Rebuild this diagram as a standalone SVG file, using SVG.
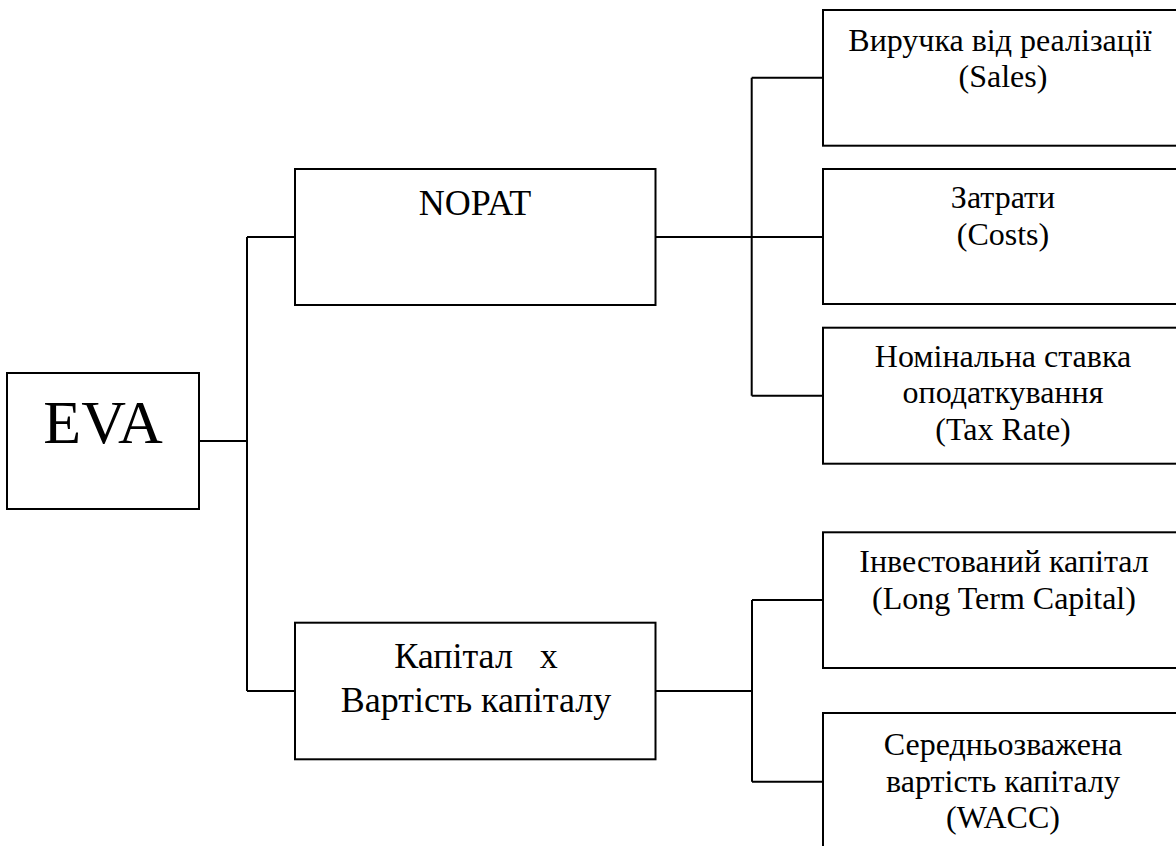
<svg xmlns="http://www.w3.org/2000/svg" width="1176" height="846" viewBox="0 0 1176 846">
<defs>
<style>
.box{fill:#fff;stroke:#000;stroke-width:2}
.conn{fill:none;stroke:#000;stroke-width:2}
</style>
</defs>
<rect width="1176" height="846" fill="#fff"/>
<g id="connectors">
<path class="conn" d="M199 441H247M247 237V691M247 237H295M247 691H295"/>
<path class="conn" d="M655.5 237H823M751.7 77.8V395.7M751.7 77.8H823M751.7 395.7H823"/>
<path class="conn" d="M655.5 691H752M752 600V781.7M752 600H823M752 781.7H823"/>
</g>
<g id="eva">
<rect class="box" x="7" y="373" width="192" height="136"/>
<text font-family="Liberation Serif" font-size="62" text-anchor="middle" x="103" y="443">EVA</text>
</g>
<g id="nopat">
<rect class="box" x="295" y="169" width="360.5" height="136"/>
<text font-family="Liberation Serif" font-size="36" text-anchor="middle" x="475" y="215">NOPAT</text>
</g>
<g id="capital">
<rect class="box" x="295" y="622.7" width="360.5" height="136.6"/>
<text font-family="Liberation Serif" font-size="36" text-anchor="middle" x="476" y="668.3" xml:space="preserve">Капітал   х</text>
<text font-family="Liberation Serif" font-size="36" text-anchor="middle" x="476" y="711.7">Вартість капіталу</text>
</g>
<g id="sales">
<rect class="box" x="823" y="10" width="360" height="135.7"/>
<text font-family="Liberation Serif" font-size="32" text-anchor="middle" x="1000" y="50.7">Виручка від реалізації</text>
<text font-family="Liberation Serif" font-size="32" text-anchor="middle" x="1003" y="87.3">(Sales)</text>
</g>
<g id="costs">
<rect class="box" x="823" y="169" width="360" height="135"/>
<text font-family="Liberation Serif" font-size="32" text-anchor="middle" x="1003" y="208.3">Затрати</text>
<text font-family="Liberation Serif" font-size="32" text-anchor="middle" x="1003" y="245">(Costs)</text>
</g>
<g id="taxrate">
<rect class="box" x="823" y="327.7" width="360" height="136"/>
<text font-family="Liberation Serif" font-size="32" text-anchor="middle" x="1003" y="366.7">Номінальна ставка</text>
<text font-family="Liberation Serif" font-size="32" text-anchor="middle" x="1003" y="403.3">оподаткування</text>
<text font-family="Liberation Serif" font-size="32" text-anchor="middle" x="1003" y="440">(Tax Rate)</text>
</g>
<g id="ltc">
<rect class="box" x="823" y="532.3" width="360" height="135.7"/>
<text font-family="Liberation Serif" font-size="32" text-anchor="middle" x="1004" y="572.3">Інвестований капітал</text>
<text font-family="Liberation Serif" font-size="32" text-anchor="middle" x="1004" y="609">(Long Term Capital)</text>
</g>
<g id="wacc">
<rect class="box" x="823" y="713" width="360" height="137.4"/>
<text font-family="Liberation Serif" font-size="32" text-anchor="middle" x="1003" y="755">Середньозважена</text>
<text font-family="Liberation Serif" font-size="32" text-anchor="middle" x="1003" y="791.7">вартість капіталу</text>
<text font-family="Liberation Serif" font-size="32" text-anchor="middle" x="1003" y="828.4">(WACC)</text>
</g>
</svg>
